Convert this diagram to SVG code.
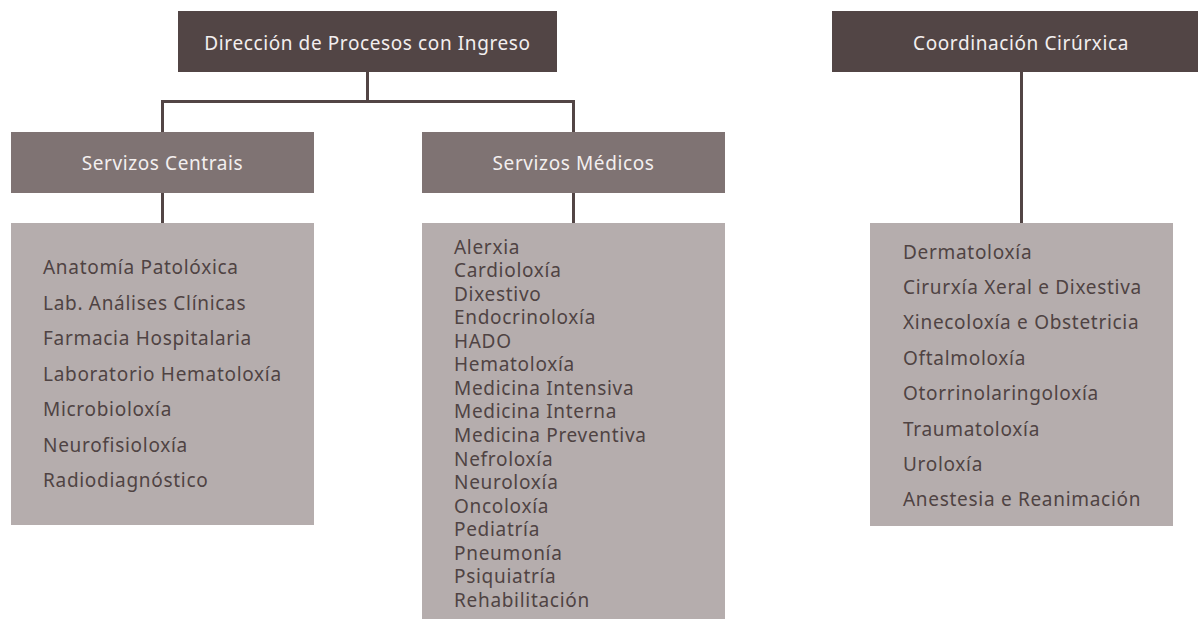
<svg xmlns="http://www.w3.org/2000/svg" width="1198" height="619" viewBox="0 0 1198 619">
<style>
.dark{fill:#524545}
.mid{fill:#7f7373}
.light{fill:#b5adad}
.hd{font-family:"Noto Sans",sans-serif;font-size:19px;letter-spacing:0.6px;fill:#f3efef;text-anchor:middle}
.it{font-family:"Noto Sans",sans-serif;font-size:19px;letter-spacing:0.7px;fill:#4f4343}
.ln{stroke:#524545;stroke-width:3;fill:none}
</style>
<rect width="1198" height="619" fill="#ffffff"/>
<g id="connectors">
<path class="ln" d="M367.5,72 V101.5 M162.5,101.5 H573.5 M162.5,100 V132 M573.5,100 V132"/>
<path class="ln" d="M162.5,193 V223 M573.5,193 V223"/>
<path class="ln" d="M1021.5,72 V223"/>
</g>
<g id="direccion">
<rect class="dark" x="178" y="11" width="379" height="61"/>
<text class="hd" x="367.5" y="50">Dirección de Procesos con Ingreso</text>
</g>
<g id="coordinacion">
<rect class="dark" x="832" y="11" width="366" height="61"/>
<text class="hd" x="1021" y="50">Coordinación Cirúrxica</text>
</g>
<g id="centrais">
<rect class="mid" x="11" y="132" width="303" height="61"/>
<text class="hd" x="162.5" y="170">Servizos Centrais</text>
</g>
<g id="medicos">
<rect class="mid" x="422" y="132" width="303" height="61"/>
<text class="hd" x="573.5" y="170">Servizos Médicos</text>
</g>
<g id="centrais-list">
<rect class="light" x="11" y="223" width="303" height="302"/>
<text class="it" x="43">
<tspan x="43" y="274">Anatomía Patolóxica</tspan>
<tspan x="43" y="309.5">Lab. Análises Clínicas</tspan>
<tspan x="43" y="345">Farmacia Hospitalaria</tspan>
<tspan x="43" y="380.5">Laboratorio Hematoloxía</tspan>
<tspan x="43" y="416">Microbioloxía</tspan>
<tspan x="43" y="451.5">Neurofisioloxía</tspan>
<tspan x="43" y="487">Radiodiagnóstico</tspan>
</text>
</g>
<g id="medicos-list">
<rect class="light" x="422" y="223" width="303" height="396"/>
<text class="it">
<tspan x="454" y="253.5">Alerxia</tspan>
<tspan x="454" y="277">Cardioloxía</tspan>
<tspan x="454" y="300.6">Dixestivo</tspan>
<tspan x="454" y="324.2">Endocrinoloxía</tspan>
<tspan x="454" y="347.7">HADO</tspan>
<tspan x="454" y="371.3">Hematoloxía</tspan>
<tspan x="454" y="394.9">Medicina Intensiva</tspan>
<tspan x="454" y="418.4">Medicina Interna</tspan>
<tspan x="454" y="442">Medicina Preventiva</tspan>
<tspan x="454" y="465.6">Nefroloxía</tspan>
<tspan x="454" y="489.1">Neuroloxía</tspan>
<tspan x="454" y="512.7">Oncoloxía</tspan>
<tspan x="454" y="536.3">Pediatría</tspan>
<tspan x="454" y="559.8">Pneumonía</tspan>
<tspan x="454" y="583.4">Psiquiatría</tspan>
<tspan x="454" y="607">Rehabilitación</tspan>
</text>
</g>
<g id="cirurxica-list">
<rect class="light" x="870" y="223" width="303" height="303"/>
<text class="it">
<tspan x="903" y="258.5">Dermatoloxía</tspan>
<tspan x="903" y="293.9">Cirurxía Xeral e Dixestiva</tspan>
<tspan x="903" y="329.3">Xinecoloxía e Obstetricia</tspan>
<tspan x="903" y="364.7">Oftalmoloxía</tspan>
<tspan x="903" y="400.1">Otorrinolaringoloxía</tspan>
<tspan x="903" y="435.5">Traumatoloxía</tspan>
<tspan x="903" y="470.9">Uroloxía</tspan>
<tspan x="903" y="506.3">Anestesia e Reanimación</tspan>
</text>
</g>
</svg>
